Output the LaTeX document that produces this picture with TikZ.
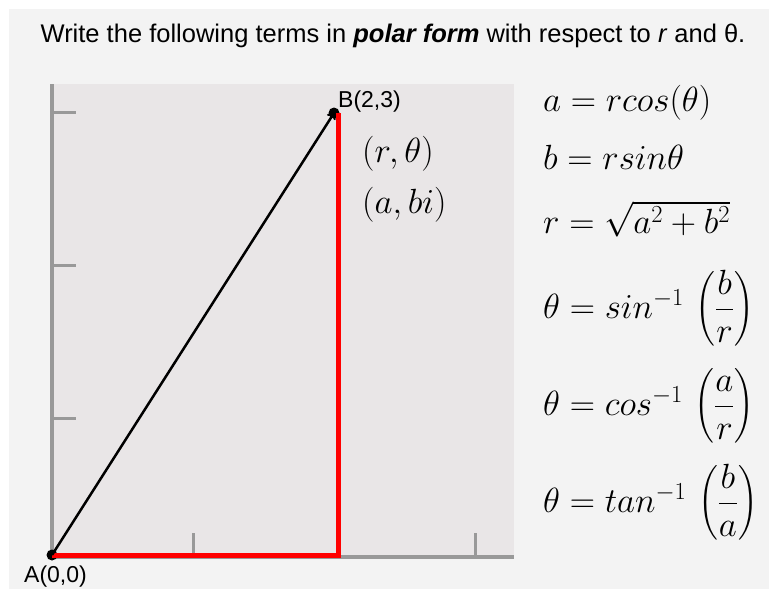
\RequirePackage{fix-cm}
\documentclass[tikz,border=0pt]{standalone}
\usepackage[no-math]{fontspec}
\usepackage{amsmath}
\setmainfont{Liberation Sans}
\usetikzlibrary{positioning,arrows,calc}
\definecolor{outerbg}{HTML}{F3F3F3}
\definecolor{plotbg}{HTML}{E9E6E7}
\definecolor{axisgray}{HTML}{999999}
\tikzstyle{ptdot}=[circle, fill=black, inner sep=0pt, minimum size=11pt]
\tikzstyle{axisline}=[-, draw=axisgray, line width=4pt]
\tikzstyle{tickline}=[-, draw=axisgray, line width=3pt]
\tikzstyle{redline}=[-, draw=red, line width=5pt, line join=miter]
\tikzstyle{vecline}=[->, draw=black, line width=2.5pt]
\tikzstyle{ptlbl}=[inner sep=0pt, anchor=base west, font=\fontsize{23}{26}\selectfont]
\tikzstyle{mathlbl}=[inner sep=0pt, anchor=base west, font=\fontsize{35}{40}\selectfont]

\begin{document}
\begin{tikzpicture}[x=1pt,y=-1pt]
\useasboundingbox (0,0) rectangle (769,589);
\fill[outerbg] (9,9) rectangle (769,589);
\fill[plotbg] (52,84) rectangle (514,555);

\node (TITLE) [inner sep=0pt, font=\fontsize{25.5}{30}\selectfont] at (393,36)
 {Write the following terms in \textbf{\textit{polar form}} with respect to \textit{r} and θ.};

% axes and ticks
\draw[axisline] (52,84) -- (52,557) -- (514,557);
\foreach \ty in {112,265,418}
 \draw[tickline] (52,\ty) -- (76,\ty);
\foreach \tx in {193,475}
 \draw[tickline] (\tx,533) -- (\tx,557);

% points
\node (A) [ptdot] at (52,555) {};
\node (B) [ptdot] at (334,113) {};
\coordinate (C) at (338,555);
 \draw[redline] (A.center) -- (C) -- (C|-B);
 \draw[vecline] (A.center) -- (B.center);

\node (ALBL) [ptlbl] at (24,582) {A(0,0)};
\node (BLBL) [ptlbl] at (338,107) {B(2,3)};
\node (POLAR) [mathlbl] at (362,162) {$(r,\theta)$};
\node (RECT) [mathlbl] at (362,213) {$(a,bi)$};

% formulas
\node (EQA) [mathlbl] at (543,111) {$a=rcos(\theta)$};
\node (EQB) [mathlbl] at (543,169) {$b=rsin\theta$};
\node (EQR) [mathlbl] at (543,233) {$r=\sqrt{a^2+b^2}$};
\node (EQSIN) [mathlbl] at (543,318) {$\theta=sin^{-1}\,\left(\dfrac{b}{r}\right)$};
\node (EQCOS) [mathlbl] at (543,415) {$\theta=cos^{-1}\,\left(\dfrac{a}{r}\right)$};
\node (EQTAN) [mathlbl] at (543,512) {$\theta=tan^{-1}\,\left(\dfrac{b}{a}\right)$};

\end{tikzpicture}
\end{document}
